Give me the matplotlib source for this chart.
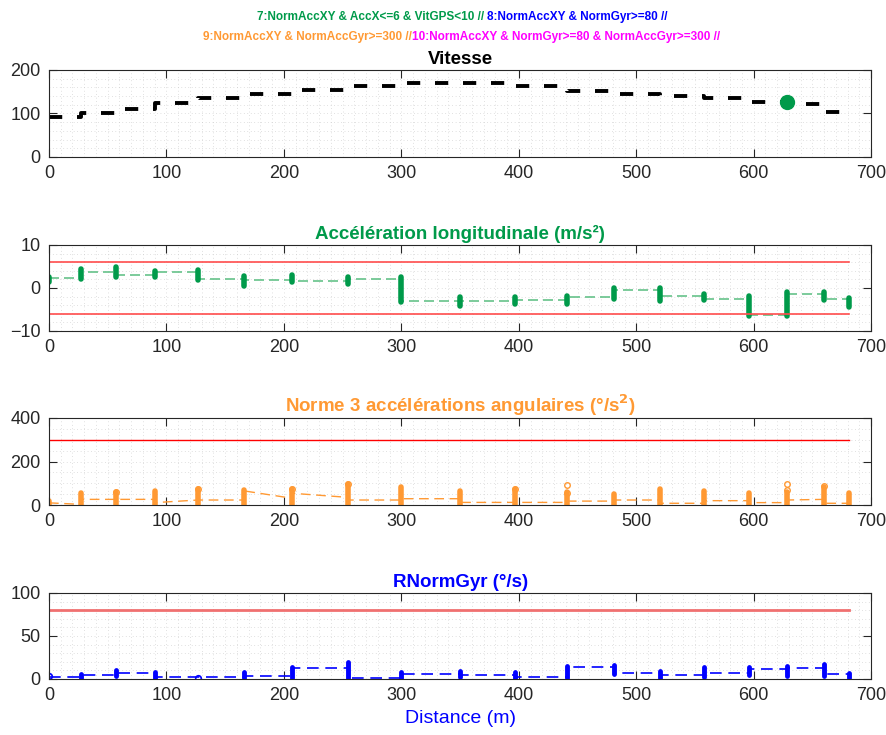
import matplotlib
matplotlib.use("Agg")
import matplotlib.pyplot as plt
from matplotlib.ticker import MultipleLocator

plt.rcParams['font.family'] = ['Liberation Sans', 'DejaVu Sans']

# distances (m) where GPS position updates
dist = [0, 27, 57, 90, 127, 166, 207, 255, 300, 350, 397, 441, 481, 520, 558, 596, 628, 660, 681]

# speed level between consecutive distances
speed = [92, 100, 110, 123, 136, 145, 154, 163, 169, 169, 163, 152, 145, 140, 135, 127, 121, 104]
event7_d = [628]
event7_v = [126]

# longitudinal acceleration: range of samples at each distance, level between them
acc_hi = [2.6, 4.4, 4.8, 4.0, 4.2, 2.7, 3.0, 2.6, 2.6, -2.0, -2.0, -1.8, 0.0, 0.0, -1.4, -1.8, -1.0, -1.0, -2.3]
acc_lo = [1.3, 2.1, 2.5, 2.5, 1.9, 0.5, 1.3, 0.9, -3.3, -4.1, -3.7, -3.7, -2.5, -3.1, -2.9, -6.6, -6.6, -2.9, -4.5]
acc_seg = [2.3, 3.8, 3.1, 3.6, 2.1, 1.9, 1.7, 2.1, -3.1, -3.1, -2.8, -2.0, -0.5, -1.9, -2.5, -6.2, -1.4, -2.5]
acc_lim = 6

# norm of the 3 angular accelerations
ang_hi = [20, 57, 61, 63, 72, 70, 72, 97, 81, 65, 74, 60, 51, 72, 65, 55, 60, 85, 55]
ang_lo = [0, 0, 0, 0, 0, 0, 0, 0, 0, 0, 0, 0, 0, 0, 0, 0, 0, 0, 0]
ang_from = [10, 26, 26, 11, 23, 65, 54, 23, 29, 12, 12, 18, 23, 8, 20, 11, 23, 8]
ang_to = [3, 26, 26, 23, 23, 31, 35, 23, 29, 12, 12, 18, 23, 8, 20, 11, 26, 8]
ang_out_d = [57, 127, 207, 255, 397, 441, 441, 628, 628, 660]
ang_out_v = [62, 72, 73, 97, 74, 92, 56, 97, 70, 87]
ang_lim = 300

# gyro norm
gyr_hi = [3.5, 6, 10, 8.5, 1.5, 8.5, 13.6, 20, 8.5, 9.3, 8.5, 15, 16, 9.3, 13.6, 13.6, 15, 18, 7.4]
gyr_lo = [3.5, 1, 3, 0, 1.5, 1, 1, 0, 0, 2.7, 0, 1, 5.4, 1, 2, 4.7, 3.5, 4, 1]
gyr_seg = [2.7, 4.3, 6.6, 2, 2, 4, 13, 1, 6, 5, 2, 13.6, 7.4, 4.3, 6.6, 11.7, 12.5, 5.8]
gyr_lim = 80

GREEN = '#009a4a'
ORANGE = '#ff9933'
BLUE = '#0000ff'
MAGENTA = '#ff00ff'
AXC = '#262626'


def seg_path(d, a, b):
    xs, ys = [], []
    for i in range(len(a)):
        xs += [d[i], d[i + 1]]
        ys += [a[i], b[i]]
    return xs, ys


def style_axes(ax, ylim, ymaj, ymin):
    ax.set_xlim(0, 700)
    ax.set_ylim(*ylim)
    ax.xaxis.set_major_locator(MultipleLocator(100))
    ax.xaxis.set_minor_locator(MultipleLocator(10))
    ax.yaxis.set_major_locator(MultipleLocator(ymaj))
    ax.yaxis.set_minor_locator(MultipleLocator(ymin))
    ax.grid(True, which='both', color='#c4c4c4', linestyle=(0, (1, 4)), linewidth=0.5)
    ax.tick_params(which='both', direction='in', top=True, right=True, colors=AXC,
                   labelsize=13, pad=6)
    ax.tick_params(which='major', length=6)
    ax.tick_params(which='minor', length=0)
    for s in ax.spines.values():
        s.set_color(AXC)
        s.set_linewidth(0.8)
    ax.set_axisbelow(True)


fig = plt.figure(figsize=(8.87, 7.35), dpi=100)
L, W = 0.0552, 0.927
ax1 = fig.add_axes([L, 0.7864, W, 0.1184])
ax2 = fig.add_axes([L, 0.5497, W, 0.117])
ax3 = fig.add_axes([L, 0.3129, W, 0.1184])
ax4 = fig.add_axes([L, 0.0762, W, 0.117])

# Vitesse
xs, ys = seg_path(dist, speed, speed)
ax1.plot(xs, ys, color='k', linewidth=2.8, linestyle=(0, (3.4, 3.8)))
ax1.plot(event7_d, event7_v, 'o', color=GREEN, markersize=10)
style_axes(ax1, (0, 200), 100, 20)
ax1.set_title('Vitesse', fontsize=13.5, fontweight='bold', color='k', pad=4)

# acceleration longitudinale
xs, ys = seg_path(dist, acc_seg, acc_seg)
ax2.plot(xs, ys, color='#66c28a', linewidth=1.2, linestyle=(0, (6, 3)))
ax2.vlines(dist, acc_lo, acc_hi, color=GREEN, linewidth=4, capstyle='round')
ax2.plot([dist[0], dist[-1]], [acc_lim, acc_lim], color='#ff4d4d', linewidth=1.2)
ax2.plot([dist[0], dist[-1]], [-acc_lim, -acc_lim], color='#ff4d4d', linewidth=1.2)
style_axes(ax2, (-10, 10), 10, 2)
ax2.set_title('Accélération longitudinale (m/s²)', fontsize=13.5, fontweight='bold',
              color=GREEN, pad=4)

# angular accelerations
xs, ys = seg_path(dist, ang_from, ang_to)
ax3.plot(xs, ys, color=ORANGE, linewidth=1.0, linestyle=(0, (7, 4)))
ax3.vlines(dist, ang_lo, ang_hi, color=ORANGE, linewidth=4, capstyle='round')
ax3.plot(ang_out_d, ang_out_v, 'o', color=ORANGE, markerfacecolor='none',
         markersize=4, markeredgewidth=1)
ax3.plot([dist[0], dist[-1]], [ang_lim, ang_lim], color='red', linewidth=1.0)
style_axes(ax3, (0, 400), 200, 50)
ax3.set_title('Norme 3 accélérations angulaires (°/s$^\\mathbf{2}$)', fontsize=13.5,
              fontweight='bold', color=ORANGE, pad=4)

# gyro
xs, ys = seg_path(dist, gyr_seg, gyr_seg)
ax4.plot(xs, ys, color=BLUE, linewidth=1.2, linestyle=(0, (7, 4)))
ax4.vlines(dist, gyr_lo, gyr_hi, color=BLUE, linewidth=3.5, capstyle='round')
ax4.plot([dist[0], dist[4]], [gyr_lo[0], gyr_lo[4]], 'o', color=BLUE,
         markerfacecolor='none', markersize=4, markeredgewidth=1.2)
ax4.plot([dist[0], dist[-1]], [gyr_lim, gyr_lim], color='#f07070', linewidth=2)
style_axes(ax4, (0, 100), 50, 10)
ax4.set_title('RNormGyr (°/s)', fontsize=13.5, fontweight='bold', color=BLUE, pad=4)
ax4.set_xlabel('Distance (m)', fontsize=14, color=BLUE, labelpad=4)

# coloured condition legend at the top
lines = [
    [('7:NormAccXY & AccX<=6 & VitGPS<10 // ', GREEN), ('8:NormAccXY & NormGyr>=80 //', BLUE)],
    [('9:NormAccXY & NormAccGyr>=300 //', ORANGE),
     ('10:NormAccXY & NormGyr>=80 & NormAccGyr>=300 //', MAGENTA)],
]
ypos = [1 - 17 / 735, 1 - 37 / 735]
fig.canvas.draw()
rend = fig.canvas.get_renderer()
for parts, yy in zip(lines, ypos):
    texts = [fig.text(0, yy, s, color=c, fontsize=8.5, fontweight='bold',
                      family=['Liberation Sans Narrow', 'Liberation Sans'],
                      va='center', ha='left') for s, c in parts]
    widths = [t.get_window_extent(rend).width for t in texts]
    x = 462 - sum(widths) / 2
    for t, w in zip(texts, widths):
        t.set_x(x / 887)
        x += w

fig.savefig('out.png', dpi=100)
